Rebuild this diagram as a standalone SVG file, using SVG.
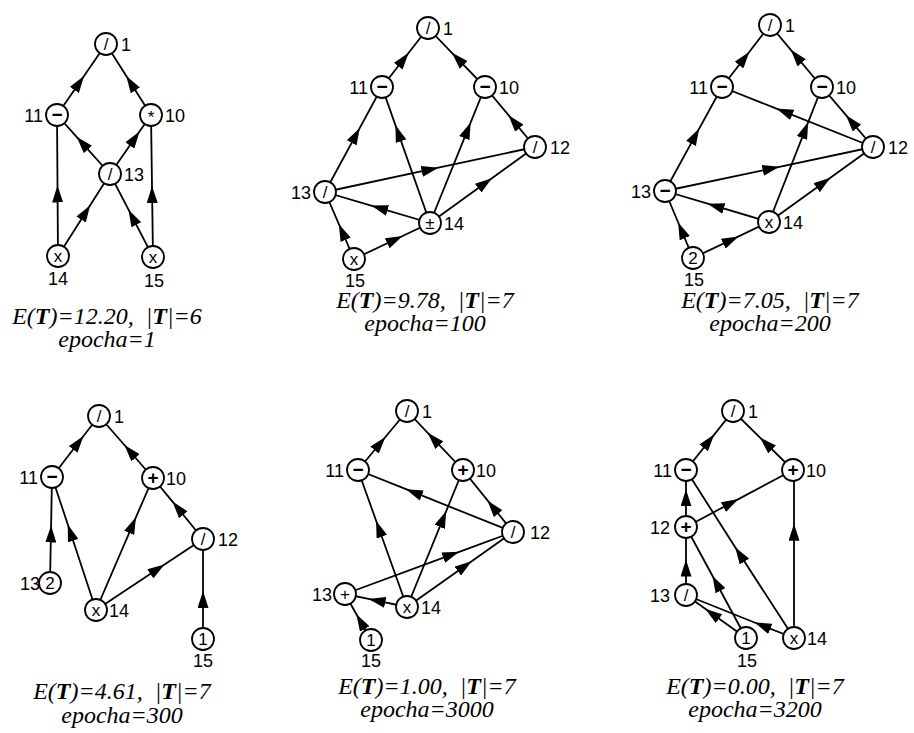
<svg xmlns="http://www.w3.org/2000/svg" width="914" height="733" viewBox="0 0 914 733">
<style>
.e{fill:none;stroke:#000;stroke-width:1.8;marker-mid:url(#a)}
.n circle{fill:#fff;stroke:#000;stroke-width:1.8}
.n text{font-family:"Liberation Sans",Arial,sans-serif;font-size:17px;text-anchor:middle}
.n text.b{font-weight:bold;font-size:19px}
.l{font-family:"Liberation Sans",Arial,sans-serif;font-size:18px}
.r{text-anchor:start}.L{text-anchor:end}.c{text-anchor:middle}
.cap text{font-family:"Liberation Serif","DejaVu Serif",serif;font-style:italic;font-size:24px;text-anchor:middle;white-space:pre}
.bt{font-weight:bold}
</style>
<defs>
<marker id="a" markerUnits="userSpaceOnUse" viewBox="0 0 17 11" markerWidth="17" markerHeight="11" refX="17" refY="5.5" orient="auto"><path d="M0,0L17,5.5L0,11z" fill="#000"/></marker>
</defs>
<g id="connectors">
<path class="e" d="M57,115L84,76L106,44"/>
<path class="e" d="M151,115L126.3,76L106,44"/>
<path class="e" d="M110,174L76.6,136.8L57,115"/>
<path class="e" d="M110,174L139.5,131.5L151,115"/>
<path class="e" d="M58,256L57.5,185.5L57,115"/>
<path class="e" d="M58,256L90.2,205.2L110,174"/>
<path class="e" d="M153,257L128.5,209.7L110,174"/>
<path class="e" d="M153,257L152,186L151,115"/>
<path class="e" d="M382,87L408.7,52.8L428,28"/>
<path class="e" d="M485,87L451.9,52.8L428,28"/>
<path class="e" d="M325,192L359.8,127.9L382,87"/>
<path class="e" d="M430,223L395.4,125.1L382,87"/>
<path class="e" d="M430,223L470.7,122.4L485,87"/>
<path class="e" d="M535,147L508.5,115.2L485,87"/>
<path class="e" d="M325,192L438.4,167.7L535,147"/>
<path class="e" d="M430,223L371.2,205.6L325,192"/>
<path class="e" d="M430,223L491.9,178.2L535,147"/>
<path class="e" d="M354,259L338.9,224.2L325,192"/>
<path class="e" d="M354,259L402.6,236L430,223"/>
<path class="e" d="M722,87L749.4,51.7L770,25"/>
<path class="e" d="M822,87L790.8,49.8L770,25"/>
<path class="e" d="M665,191L699.2,128.6L722,87"/>
<path class="e" d="M873,147L776.4,108.6L722,87"/>
<path class="e" d="M769,222L808.2,122.1L822,87"/>
<path class="e" d="M873,147L846,115.2L822,87"/>
<path class="e" d="M665,191L779.4,166.8L873,147"/>
<path class="e" d="M769,222L707.6,203.7L665,191"/>
<path class="e" d="M769,222L830.4,177.8L873,147"/>
<path class="e" d="M693,258L678.2,222.5L665,191"/>
<path class="e" d="M693,258L738.6,236.4L769,222"/>
<path class="e" d="M52,477L83.5,436L99,416"/>
<path class="e" d="M153,478L124.4,445L99,416"/>
<path class="e" d="M50,583L51.1,525.5L52,477"/>
<path class="e" d="M96,610L67.8,524.5L52,477"/>
<path class="e" d="M96,610L135.9,517.3L153,478"/>
<path class="e" d="M203,539L172.5,501.6L153,478"/>
<path class="e" d="M96,610L164.5,564.5L203,539"/>
<path class="e" d="M203,639L203,591L203,539"/>
<path class="e" d="M358,470L385.4,437L407,411"/>
<path class="e" d="M463,470L427.7,432.8L407,411"/>
<path class="e" d="M407,607L376.1,520.7L358,470"/>
<path class="e" d="M513,532L406,489.2L358,470"/>
<path class="e" d="M407,607L446.2,511.1L463,470"/>
<path class="e" d="M513,532L487.5,500.4L463,470"/>
<path class="e" d="M345,594L459.2,551.8L513,532"/>
<path class="e" d="M407,607L471.7,561.3L513,532"/>
<path class="e" d="M407,607L368.6,598.9L345,594"/>
<path class="e" d="M371,640L356.4,614.2L345,594"/>
<path class="e" d="M686,470L714.2,434.6L733,411"/>
<path class="e" d="M793,470L760,437.6L733,411"/>
<path class="e" d="M686,527L686,489.4L686,470"/>
<path class="e" d="M686,527L738.4,499.1L793,470"/>
<path class="e" d="M686,595L686,559.6L686,527"/>
<path class="e" d="M746,638L712.4,575.8L686,527"/>
<path class="e" d="M794,638L735.2,547.3L686,470"/>
<path class="e" d="M794,638L794,523.8L794,470"/>
<path class="e" d="M746,638L705.2,608.8L686,595"/>
<path class="e" d="M794,638L754.5,622.5L686,595"/>
</g>
<g id="p1n1" class="n"><circle cx="106" cy="44" r="11"/><text x="106" y="50">/</text></g>
<g id="p1n11" class="n"><circle cx="57" cy="115" r="11"/><text class="b" x="57" y="121">−</text></g>
<g id="p1n10" class="n"><circle cx="151" cy="115" r="11"/><text x="151" y="123">*</text></g>
<g id="p1n13" class="n"><circle cx="110" cy="174" r="11"/><text x="110" y="180">/</text></g>
<g id="p1n14" class="n"><circle cx="58" cy="256" r="11"/><text x="58" y="262">x</text></g>
<g id="p1n15" class="n"><circle cx="153" cy="257" r="11"/><text x="153" y="263">x</text></g>
<g id="p2n1" class="n"><circle cx="428" cy="28" r="11"/><text x="428" y="34">/</text></g>
<g id="p2n11" class="n"><circle cx="382" cy="87" r="11"/><text class="b" x="382" y="93">−</text></g>
<g id="p2n10" class="n"><circle cx="485" cy="87" r="11"/><text class="b" x="485" y="93">−</text></g>
<g id="p2n12" class="n"><circle cx="535" cy="147" r="11"/><text x="535" y="153">/</text></g>
<g id="p2n13" class="n"><circle cx="325" cy="192" r="11"/><text x="325" y="198">/</text></g>
<g id="p2n14" class="n"><circle cx="430" cy="223" r="11"/><text x="430" y="229">±</text></g>
<g id="p2n15" class="n"><circle cx="354" cy="259" r="11"/><text x="354" y="265">x</text></g>
<g id="p3n1" class="n"><circle cx="770" cy="25" r="11"/><text x="770" y="31">/</text></g>
<g id="p3n11" class="n"><circle cx="722" cy="87" r="11"/><text class="b" x="722" y="93">−</text></g>
<g id="p3n10" class="n"><circle cx="822" cy="87" r="11"/><text class="b" x="822" y="93">−</text></g>
<g id="p3n12" class="n"><circle cx="873" cy="147" r="11"/><text x="873" y="153">/</text></g>
<g id="p3n13" class="n"><circle cx="665" cy="191" r="11"/><text class="b" x="665" y="197">−</text></g>
<g id="p3n14" class="n"><circle cx="769" cy="222" r="11"/><text x="769" y="228">x</text></g>
<g id="p3n15" class="n"><circle cx="693" cy="258" r="11"/><text x="693" y="264">2</text></g>
<g id="p4n1" class="n"><circle cx="99" cy="416" r="11"/><text x="99" y="422">/</text></g>
<g id="p4n11" class="n"><circle cx="52" cy="477" r="11"/><text class="b" x="52" y="483">−</text></g>
<g id="p4n10" class="n"><circle cx="153" cy="478" r="11"/><text class="b" x="153" y="484">+</text></g>
<g id="p4n12" class="n"><circle cx="203" cy="539" r="11"/><text x="203" y="545">/</text></g>
<g id="p4n13" class="n"><circle cx="50" cy="583" r="11"/><text x="50" y="589">2</text></g>
<g id="p4n14" class="n"><circle cx="96" cy="610" r="11"/><text x="96" y="616">x</text></g>
<g id="p4n15" class="n"><circle cx="203" cy="639" r="11"/><text x="203" y="645">1</text></g>
<g id="p5n1" class="n"><circle cx="407" cy="411" r="11"/><text x="407" y="417">/</text></g>
<g id="p5n11" class="n"><circle cx="358" cy="470" r="11"/><text class="b" x="358" y="476">−</text></g>
<g id="p5n10" class="n"><circle cx="463" cy="470" r="11"/><text class="b" x="463" y="476">+</text></g>
<g id="p5n12" class="n"><circle cx="513" cy="532" r="11"/><text x="513" y="538">/</text></g>
<g id="p5n13" class="n"><circle cx="345" cy="594" r="11"/><text x="345" y="600">+</text></g>
<g id="p5n14" class="n"><circle cx="407" cy="607" r="11"/><text x="407" y="613">x</text></g>
<g id="p5n15" class="n"><circle cx="371" cy="640" r="11"/><text x="371" y="646">1</text></g>
<g id="p6n1" class="n"><circle cx="733" cy="411" r="11"/><text x="733" y="417">/</text></g>
<g id="p6n11" class="n"><circle cx="686" cy="470" r="11"/><text class="b" x="686" y="476">−</text></g>
<g id="p6n10" class="n"><circle cx="793" cy="470" r="11"/><text class="b" x="793" y="476">+</text></g>
<g id="p6n12" class="n"><circle cx="686" cy="527" r="11"/><text class="b" x="686" y="533">+</text></g>
<g id="p6n13" class="n"><circle cx="686" cy="595" r="11"/><text x="686" y="601">/</text></g>
<g id="p6n14" class="n"><circle cx="794" cy="638" r="11"/><text x="794" y="644">x</text></g>
<g id="p6n15" class="n"><circle cx="746" cy="638" r="11"/><text x="746" y="644">1</text></g>
<g id="labels" class="l">
<text class="r" x="121" y="51">1</text><text class="L" x="43" y="122">11</text><text class="r" x="165" y="122">10</text><text class="r" x="124" y="181">13</text><text class="c" x="58" y="285">14</text><text class="c" x="154" y="287">15</text>
<text class="r" x="443" y="35">1</text><text class="L" x="368" y="94">11</text><text class="r" x="499" y="94">10</text><text class="r" x="550" y="154">12</text><text class="L" x="311" y="199">13</text><text class="r" x="444" y="230">14</text><text class="c" x="355" y="287">15</text>
<text class="r" x="785" y="32">1</text><text class="L" x="708" y="94">11</text><text class="r" x="836" y="94">10</text><text class="r" x="888" y="154">12</text><text class="L" x="651" y="198">13</text><text class="r" x="783" y="229">14</text><text class="c" x="694" y="286">15</text>
<text class="r" x="114" y="423">1</text><text class="L" x="38" y="484">11</text><text class="r" x="166" y="485">10</text><text class="r" x="218" y="546">12</text><text class="L" x="40" y="590">13</text><text class="r" x="109" y="617">14</text><text class="c" x="203" y="667">15</text>
<text class="r" x="422" y="418">1</text><text class="L" x="344" y="477">11</text><text class="r" x="476" y="477">10</text><text class="r" x="530" y="539">12</text><text class="L" x="332" y="601">13</text><text class="r" x="421" y="614">14</text><text class="c" x="371" y="667">15</text>
<text class="r" x="748" y="418">1</text><text class="L" x="672" y="477">11</text><text class="r" x="806" y="477">10</text><text class="L" x="670" y="534">12</text><text class="L" x="670" y="602">13</text><text class="r" x="807" y="645">14</text><text class="c" x="747" y="667">15</text>
</g>
<g id="captions" class="cap">
<text x="107" y="324" xml:space="preserve">E(<tspan class="bt">T</tspan>)=12.20,  |<tspan class="bt">T</tspan>|=6</text>
<text x="107" y="347">epocha=1</text>
<text x="425" y="308" xml:space="preserve">E(<tspan class="bt">T</tspan>)=9.78,  |<tspan class="bt">T</tspan>|=7</text>
<text x="425" y="331">epocha=100</text>
<text x="770" y="308" xml:space="preserve">E(<tspan class="bt">T</tspan>)=7.05,  |<tspan class="bt">T</tspan>|=7</text>
<text x="770" y="331">epocha=200</text>
<text x="122" y="699" xml:space="preserve">E(<tspan class="bt">T</tspan>)=4.61,  |<tspan class="bt">T</tspan>|=7</text>
<text x="122" y="723">epocha=300</text>
<text x="427" y="694" xml:space="preserve">E(<tspan class="bt">T</tspan>)=1.00,  |<tspan class="bt">T</tspan>|=7</text>
<text x="427" y="717">epocha=3000</text>
<text x="755" y="694" xml:space="preserve">E(<tspan class="bt">T</tspan>)=0.00,  |<tspan class="bt">T</tspan>|=7</text>
<text x="755" y="717">epocha=3200</text>
</g>
</svg>
